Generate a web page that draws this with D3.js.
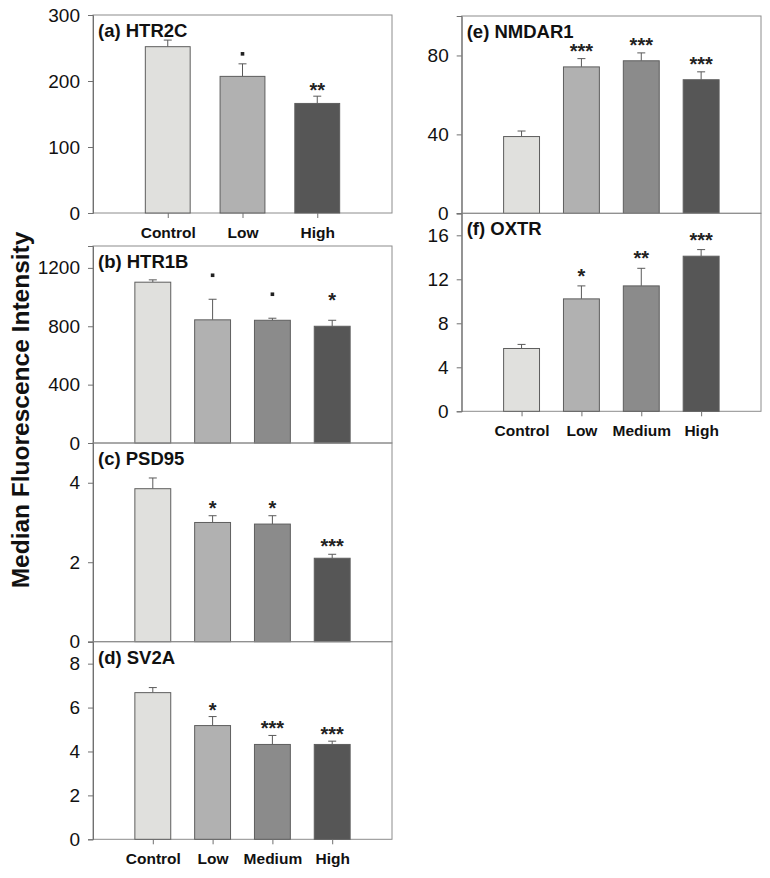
<!DOCTYPE html>
<html>
<head>
<meta charset="utf-8">
<script src="https://cdn.jsdelivr.net/npm/d3@7"></script>
<style>
  body { margin: 0; background: #fff; }
  svg { font-family: "Liberation Sans", Arial, sans-serif; }
</style>
</head>
<body>
<div id="vis"></div>
<script>
// groups
const groups3 = ['Control', 'Low', 'High'];
const groups4 = ['Control', 'Low', 'Medium', 'High'];

// (a) HTR2C
const htr2cMean = [252, 207, 166];
const htr2cErr = [10, 19, 11];
const htr2cSig = ['', '.', '**'];
const htr2cTicks = [0, 100, 200, 300];

// (b) HTR1B
const htr1bMean = [1102, 844, 841, 800];
const htr1bErr = [16, 141, 14, 41];
const htr1bSig = ['', '.', '.', '*'];
const htr1bTicks = [0, 400, 800, 1200];

// (c) PSD95
const psd95Mean = [3.85, 3.0, 2.96, 2.1];
const psd95Err = [0.27, 0.17, 0.21, 0.1];
const psd95Sig = ['', '*', '*', '***'];
const psd95Ticks = [0, 2, 4];

// (d) SV2A
const sv2aMean = [6.68, 5.18, 4.32, 4.32];
const sv2aErr = [0.23, 0.41, 0.41, 0.15];
const sv2aSig = ['', '*', '***', '***'];
const sv2aTicks = [0, 2, 4, 6, 8];

// (e) NMDAR1
const nmdar1Mean = [38.9, 74.2, 77.3, 67.7];
const nmdar1Err = [2.8, 4.2, 4.0, 4.0];
const nmdar1Sig = ['', '***', '***', '***'];
const nmdar1Ticks = [0, 40, 80];

// (f) OXTR
const oxtrMean = [5.71, 10.22, 11.4, 14.1];
const oxtrErr = [0.37, 1.18, 1.6, 0.6];
const oxtrSig = ['', '*', '**', '***'];
const oxtrTicks = [0, 4, 8, 12, 16];

const fills = { Control: '#e0e0dd', Low: '#b1b1b1', Medium: '#8b8b8b', High: '#565656' };

const svg = d3.select('#vis')
    .append('svg')
    .attr('width', 770)
    .attr('height', 878);

// layout of each panel
const panels = [
    { title: '(a) HTR2C', cats: groups3, mean: htr2cMean, err: htr2cErr, sig: htr2cSig, ticks: htr2cTicks, max: 300,
      x0: 93, x1: 392, top: 15, bottom: 213, xLabels: true, gap: 10 },
    { title: '(b) HTR1B', cats: groups4, mean: htr1bMean, err: htr1bErr, sig: htr1bSig, ticks: htr1bTicks, max: 1350,
      x0: 93, x1: 392, top: 246, bottom: 443, xLabels: false, gap: 24 },
    { title: '(c) PSD95', cats: groups4, mean: psd95Mean, err: psd95Err, sig: psd95Sig, ticks: psd95Ticks, max: 5,
      x0: 93, x1: 392, top: 443, bottom: 641.7, xLabels: false, gap: 12 },
    { title: '(d) SV2A', cats: groups4, mean: sv2aMean, err: sv2aErr, sig: sv2aSig, ticks: sv2aTicks, max: 9,
      x0: 93, x1: 392, top: 641.7, bottom: 839.3, xLabels: true, gap: 11 },
    { title: '(e) NMDAR1', cats: groups4, mean: nmdar1Mean, err: nmdar1Err, sig: nmdar1Sig, ticks: nmdar1Ticks, max: 100,
      x0: 461.7, x1: 761, top: 16, bottom: 213.3, xLabels: false, gap: 12 },
    { title: '(f) OXTR', cats: groups4, mean: oxtrMean, err: oxtrErr, sig: oxtrSig, ticks: oxtrTicks, max: 18,
      x0: 461.7, x1: 761, top: 213.3, bottom: 411.3, xLabels: true, gap: 14 }
];

panels.forEach(drawPanel);

function drawPanel(p) {
    const g = svg.append('g');
    const x = d3.scalePoint().domain(p.cats).range([p.x0, p.x1]).padding(1);
    const y = d3.scaleLinear().domain([0, p.max]).range([p.bottom, p.top]);
    const bw = x.step() * 0.6;
    const rows = p.cats.map((c, i) => ({ cat: c, mean: p.mean[i], err: p.err[i], sig: p.sig[i] }));

    // frame
    g.append('rect')
        .attr('x', p.x0).attr('y', p.top)
        .attr('width', p.x1 - p.x0).attr('height', p.bottom - p.top)
        .attr('fill', 'none').attr('stroke', '#8c8c8c').attr('stroke-width', 1);

    // error bars (upper only)
    const eb = g.selectAll('.err').data(rows).join('g').attr('class', 'err')
        .attr('stroke', '#5a5a5a').attr('stroke-width', 1);
    eb.append('line')
        .attr('x1', d => x(d.cat)).attr('x2', d => x(d.cat))
        .attr('y1', d => y(d.mean)).attr('y2', d => y(d.mean + d.err));
    eb.append('line')
        .attr('x1', d => x(d.cat) - 4).attr('x2', d => x(d.cat) + 4)
        .attr('y1', d => y(d.mean + d.err)).attr('y2', d => y(d.mean + d.err));

    // bars
    g.selectAll('.bar').data(rows).join('rect').attr('class', 'bar')
        .attr('x', d => x(d.cat) - bw / 2)
        .attr('y', d => y(d.mean))
        .attr('width', bw)
        .attr('height', d => y(0) - y(d.mean))
        .attr('fill', d => fills[d.cat])
        .attr('stroke', '#5e5e5e').attr('stroke-width', 1);

    // significance marks
    rows.forEach(d => {
        if (!d.sig) return;
        const cy = y(d.mean + d.err) - p.gap;
        if (d.sig === '.') {
            g.append('rect')
                .attr('x', x(d.cat) - 1.8).attr('y', cy - 1.8)
                .attr('width', 3.6).attr('height', 3.6)
                .attr('fill', '#222');
        } else {
            g.append('text')
                .attr('x', x(d.cat)).attr('y', cy + 11)
                .attr('text-anchor', 'middle')
                .attr('font-size', 20).attr('font-weight', 'bold')
                .attr('fill', '#222')
                .text(d.sig);
        }
    });

    // y axis
    const yAxis = g.append('g')
        .attr('transform', `translate(${p.x0},0)`)
        .call(d3.axisLeft(y).tickValues(p.ticks).tickSize(5).tickPadding(8).tickFormat(d3.format('d')));
    yAxis.select('.domain').attr('stroke', '#707070');
    yAxis.selectAll('.tick line').attr('stroke', '#707070');
    yAxis.selectAll('.tick text')
        .attr('font-size', 19).attr('fill', '#111')
        .attr('font-family', '"Liberation Sans", Arial, sans-serif');

    // x axis (bottom panels only)
    if (p.xLabels) {
        const xAxis = g.append('g')
            .attr('transform', `translate(0,${p.bottom})`)
            .call(d3.axisBottom(x).tickSize(5).tickPadding(9));
        xAxis.select('.domain').remove();
        xAxis.selectAll('.tick line').attr('stroke', '#707070');
        xAxis.selectAll('.tick text')
            .attr('font-size', 15.5).attr('font-weight', 'bold').attr('fill', '#111')
            .attr('font-family', '"Liberation Sans", Arial, sans-serif');
    }

    // panel title
    g.append('text')
        .attr('x', p.x0 + 5).attr('y', p.top + 22)
        .attr('font-size', 18.5).attr('font-weight', 'bold').attr('fill', '#111')
        .text(p.title);
}

// shared y axis title
svg.append('text')
    .attr('transform', 'translate(29,410) rotate(-90)')
    .attr('text-anchor', 'middle')
    .attr('font-size', 24.5).attr('font-weight', 'bold').attr('fill', '#111')
    .text('Median Fluorescence Intensity');
</script>
</body>
</html>
